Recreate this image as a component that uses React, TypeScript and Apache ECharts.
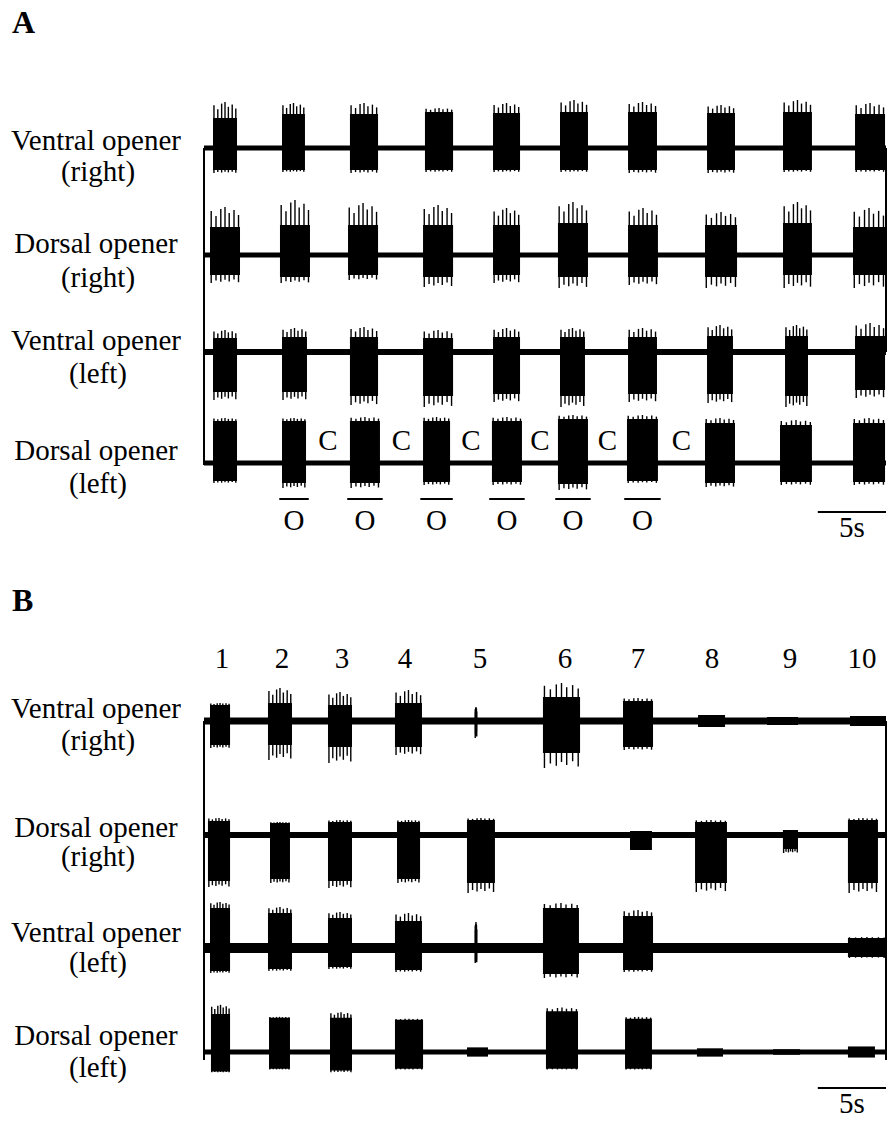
import React, { useEffect, useRef } from "react";
import * as echarts from "echarts";

// ---------- data (time in s, amplitude in arbitrary units) ----------
// burst: [start s, end s, body up, body down, peak up, peak down]
const A_VENTRAL_RIGHT = [
  [0.66, 2.42, 30, 22, 46, 25],
  [5.72, 7.4, 34, 22, 45, 24],
  [10.7, 12.76, 34, 22, 45, 25],
  [16.2, 18.26, 36, 22, 40, 24],
  [21.19, 23.17, 35, 22, 45, 24],
  [26.1, 28.15, 36, 22, 48, 24],
  [31.09, 33.21, 36, 22, 46, 25],
  [36.88, 38.93, 35, 22, 43, 25],
  [42.45, 44.57, 36, 22, 48, 24],
  [47.73, 49.93, 34, 22, 45, 24],
];
const A_DORSAL_RIGHT = [
  [0.44, 2.64, 28, 20, 48, 28],
  [5.57, 7.77, 30, 22, 55, 28],
  [10.56, 12.76, 30, 20, 52, 25],
  [16.06, 18.26, 30, 22, 50, 32],
  [21.19, 23.17, 30, 20, 47, 28],
  [25.95, 28.15, 32, 22, 53, 33],
  [31.09, 33.28, 30, 22, 47, 30],
  [36.73, 39.08, 30, 22, 43, 33],
  [42.45, 44.57, 32, 20, 53, 33],
  [47.58, 49.93, 28, 20, 47, 33],
];
const A_VENTRAL_LEFT = [
  [0.66, 2.42, 14, 40, 22, 48],
  [5.72, 7.55, 15, 40, 24, 48],
  [10.7, 12.76, 15, 44, 25, 53],
  [16.06, 18.26, 14, 44, 22, 55],
  [21.19, 23.17, 15, 42, 24, 50],
  [26.1, 27.93, 15, 44, 24, 55],
  [31.09, 33.21, 15, 42, 24, 50],
  [36.88, 38.78, 16, 42, 27, 51],
  [42.6, 44.28, 16, 44, 27, 55],
  [47.73, 49.93, 16, 38, 29, 46],
];
const A_DORSAL_LEFT = [
  [0.66, 2.42, 42, 18, 45, 20],
  [5.72, 7.48, 42, 20, 45, 25],
  [10.7, 12.9, 42, 20, 46, 25],
  [16.06, 18.04, 42, 19, 46, 22],
  [21.11, 23.31, 42, 19, 46, 22],
  [25.95, 28.15, 44, 21, 48, 27],
  [31.01, 33.28, 44, 18, 48, 20],
  [36.73, 38.93, 40, 20, 45, 24],
  [42.23, 44.57, 38, 19, 43, 22],
  [47.58, 49.93, 40, 19, 45, 22],
];
const B_VENTRAL_RIGHT = [
  [0.44, 1.91, 16, 24, 18, 27],
  [4.69, 6.45, 18, 24, 33, 39],
  [9.09, 10.85, 16, 26, 29, 42],
  [14.0, 15.98, 18, 26, 31, 34],
  [19.88, 20.0, 3, 3, 14, 17],
  [24.85, 27.57, 24, 32, 38, 47],
  [30.72, 32.92, 20, 26, 23, 29],
  [36.22, 38.2, 6, 6, 6, 6],
  [41.28, 43.55, 4, 4, 4, 4],
  [47.36, 50.0, 5, 5, 5, 5],
];
const B_DORSAL_RIGHT = [
  [0.29, 1.91, 14, 46, 17, 52],
  [4.84, 6.3, 12, 44, 13, 48],
  [9.09, 10.85, 13, 46, 15, 53],
  [14.15, 15.84, 13, 44, 15, 48],
  [19.28, 21.33, 15, 48, 17, 58],
  [31.23, 32.84, 4, 15, 4, 15],
  [36.0, 38.34, 13, 48, 15, 57],
  [42.45, 43.55, 5, 14, 5, 18],
  [47.21, 49.41, 15, 48, 17, 58],
];
const B_VENTRAL_LEFT = [
  [0.44, 1.91, 40, 23, 46, 25],
  [4.69, 6.45, 35, 21, 41, 23],
  [9.09, 10.85, 30, 19, 36, 21],
  [14.0, 15.98, 27, 22, 35, 24],
  [19.88, 20.0, 8, 8, 26, 15],
  [24.85, 27.49, 40, 26, 45, 30],
  [30.72, 32.92, 32, 22, 38, 24],
  [47.21, 50.0, 10, 9, 11, 10],
];
const B_DORSAL_LEFT = [
  [0.51, 1.91, 41, 21, 51, 22],
  [4.77, 6.3, 37, 18, 38, 19],
  [9.24, 10.85, 37, 20, 43, 22],
  [14.0, 16.06, 35, 18, 36, 19],
  [19.28, 20.82, 5, 5, 5, 5],
  [25.07, 27.42, 44, 18, 48, 19],
  [30.87, 32.84, 36, 18, 38, 19],
  [36.14, 38.05, 4, 5, 4, 5],
  [41.72, 43.7, 3, 3, 3, 3],
  [47.21, 49.19, 6, 6, 6, 6],
];

const TRACE_NAMES = [
  ["Ventral opener", "(right)"],
  ["Dorsal opener", "(right)"],
  ["Ventral opener", "(left)"],
  ["Dorsal opener", "(left)"],
];
const PANEL_LETTERS = ["A", "B"];
const OPEN_LABEL = "O";
const CLOSE_LABEL = "C";
const A_OPEN_BURSTS = [1, 2, 3, 4, 5, 6]; // indices into A_DORSAL_LEFT
const B_CYCLE_LABELS = ["1", "2", "3", "4", "5", "6", "7", "8", "9", "10"];
const B_CYCLE_TIMES = [1.32, 5.72, 10.12, 14.74, 20.23, 26.47, 31.82, 37.24, 42.96, 48.24];
const SCALE_BAR = [45, 50];
const SCALE_LABEL = "5s";
const T_MAX = 50;

// ---------- layout / style ----------
const W = 887;
const H = 1126;
const PLOT_LEFT = 204;
const PLOT_WIDTH = 682;
const HALF = 80;
const INK = "#000";
const FONT = '"Liberation Serif", "DejaVu Serif", serif';
const FS = 29;
// glyph texture of a burst: [position within burst, share of the way from body to peak]
const SPIKE_STYLE = [
  [0.04, 0.8],
  [0.2, 0.55],
  [0.36, 0.9],
  [0.5, 1],
  [0.64, 0.7],
  [0.8, 0.85],
  [0.95, 0.6],
];
const TRACES = [
  { base: 148, noise: 5, bursts: A_VENTRAL_RIGHT, label: [150, 181] },
  { base: 255, noise: 5, bursts: A_DORSAL_RIGHT, label: [253, 287] },
  { base: 352, noise: 6, bursts: A_VENTRAL_LEFT, label: [350, 383] },
  { base: 463, noise: 5, bursts: A_DORSAL_LEFT, label: [460, 493] },
  { base: 721, noise: 7, bursts: B_VENTRAL_RIGHT, label: [718, 750] },
  { base: 835, noise: 6, bursts: B_DORSAL_RIGHT, label: [837, 866] },
  { base: 948, noise: 10, bursts: B_VENTRAL_LEFT, label: [942, 972] },
  { base: 1058, noise: 5, bursts: B_DORSAL_LEFT, label: [1045, 1077] },
];

function burstRender(_p: any, api: any) {
  const t0 = api.value(0);
  const t1 = api.value(1);
  const bu = api.value(2);
  const bd = api.value(3);
  const pu = api.value(4);
  const pd = api.value(5);
  const a = api.coord([t0, bu]);
  const b = api.coord([t1, -bd]);
  const children: any[] = [
    {
      type: "rect",
      shape: { x: a[0], y: a[1], width: Math.max(b[0] - a[0], 1.5), height: b[1] - a[1] },
      style: { fill: INK },
    },
  ];
  if (pu > bu || pd > bd) {
    SPIKE_STYLE.forEach(([f, s], k) => {
      const t = t0 + (t1 - t0) * f;
      const up = bu + (pu - bu) * s;
      const dn = bd + (pd - bd) * SPIKE_STYLE[(k + 3) % SPIKE_STYLE.length][1];
      const p = api.coord([t, up]);
      const q = api.coord([t, -dn]);
      children.push({
        type: "line",
        shape: { x1: p[0], y1: p[1], x2: q[0], y2: q[1] },
        style: { stroke: INK, lineWidth: 1.4 },
      });
    });
  }
  return { type: "group", children };
}

function textEl(x: number, y: number, text: string, size = FS, weight = "normal", align = "center") {
  return {
    type: "text",
    x,
    y,
    style: {
      text,
      fill: INK,
      fontSize: size,
      fontFamily: FONT,
      fontWeight: weight,
      align,
      verticalAlign: "middle",
      textAlign: align,
      textVerticalAlign: "middle",
    },
  };
}

function buildOption() {
  const grid: any[] = [];
  const xAxis: any[] = [];
  const yAxis: any[] = [];
  const series: any[] = [];
  TRACES.forEach((tr, i) => {
    grid.push({ left: PLOT_LEFT, width: PLOT_WIDTH, top: tr.base - HALF, height: 2 * HALF });
    xAxis.push({ type: "value", gridIndex: i, min: 0, max: T_MAX, show: false });
    yAxis.push({ type: "value", gridIndex: i, min: -HALF, max: HALF, show: false });
    series.push({
      type: "line",
      xAxisIndex: i,
      yAxisIndex: i,
      data: [[0, 0], [T_MAX, 0]],
      symbol: "none",
      silent: true,
      lineStyle: { color: INK, width: tr.noise },
    });
    series.push({
      type: "custom",
      xAxisIndex: i,
      yAxisIndex: i,
      clip: false,
      silent: true,
      data: tr.bursts,
      renderItem: burstRender,
    });
  });

  // A: opening bars + O labels
  const openData = A_OPEN_BURSTS.map((k) => [A_DORSAL_LEFT[k][0] - 0.2, A_DORSAL_LEFT[k][1] + 0.2]);
  series.push({
    type: "custom",
    xAxisIndex: 3,
    yAxisIndex: 3,
    clip: false,
    silent: true,
    data: openData,
    renderItem: (_p: any, api: any) => {
      const t0 = api.value(0);
      const t1 = api.value(1);
      const a = api.coord([t0, -36]);
      const b = api.coord([t1, -36]);
      const c = api.coord([(t0 + t1) / 2, -57]);
      return {
        type: "group",
        children: [
          { type: "line", shape: { x1: a[0], y1: a[1], x2: b[0], y2: b[1] }, style: { stroke: INK, lineWidth: 2 } },
          textEl(c[0], c[1], OPEN_LABEL),
        ],
      };
    },
  });
  // A: closing labels in the gaps after opening bursts
  const closeData = A_OPEN_BURSTS.map((k) => [(A_DORSAL_LEFT[k][1] + A_DORSAL_LEFT[k + 1][0]) / 2]);
  series.push({
    type: "custom",
    xAxisIndex: 3,
    yAxisIndex: 3,
    clip: false,
    silent: true,
    data: closeData,
    renderItem: (_p: any, api: any) => {
      const c = api.coord([api.value(0), 23]);
      return textEl(c[0], c[1], CLOSE_LABEL);
    },
  });
  // B: cycle numbers
  series.push({
    type: "custom",
    xAxisIndex: 4,
    yAxisIndex: 4,
    clip: false,
    silent: true,
    data: B_CYCLE_TIMES.map((t, k) => [t, k]),
    renderItem: (_p: any, api: any) => {
      const c = api.coord([api.value(0), 63]);
      return textEl(c[0], c[1], B_CYCLE_LABELS[api.value(1)]);
    },
  });
  // scale bars
  [
    { axis: 3, bar: -49, txt: -64 },
    { axis: 7, bar: -39, txt: -55 },
  ].forEach((s) => {
    series.push({
      type: "custom",
      xAxisIndex: s.axis,
      yAxisIndex: s.axis,
      clip: false,
      silent: true,
      data: [SCALE_BAR],
      renderItem: (_p: any, api: any) => {
        const t0 = api.value(0);
        const t1 = api.value(1);
        const a = api.coord([t0, s.bar]);
        const b = api.coord([t1, s.bar]);
        const c = api.coord([(t0 + t1) / 2, s.txt]);
        return {
          type: "group",
          children: [
            { type: "line", shape: { x1: a[0], y1: a[1], x2: b[0], y2: b[1] }, style: { stroke: INK, lineWidth: 2 } },
            textEl(c[0], c[1], SCALE_LABEL),
          ],
        };
      },
    });
  });

  // graphic: frame lines, trace names, panel letters
  const elements: any[] = [];
  const vline = (x: number, y1: number, y2: number) => ({
    type: "line",
    silent: true,
    shape: { x1: x, y1, x2: x, y2 },
    style: { stroke: INK, lineWidth: 2 },
  });
  elements.push(vline(PLOT_LEFT, TRACES[0].base, TRACES[3].base + 2));
  elements.push(vline(PLOT_LEFT + PLOT_WIDTH, TRACES[0].base, TRACES[2].base));
  elements.push(vline(PLOT_LEFT, TRACES[4].base, TRACES[7].base + 2));
  elements.push(vline(PLOT_LEFT + PLOT_WIDTH, TRACES[4].base, TRACES[7].base + 2));
  TRACES.forEach((tr, i) => {
    const names = TRACE_NAMES[i % 4];
    elements.push(textEl(96, tr.label[0] - 10, names[0]));
    elements.push(textEl(98, tr.label[1] - 10, names[1]));
  });
  elements.push(textEl(12, 22, PANEL_LETTERS[0], 32, "bold", "left"));
  elements.push(textEl(12, 600, PANEL_LETTERS[1], 32, "bold", "left"));

  return {
    animation: false,
    backgroundColor: "#fff",
    grid,
    xAxis,
    yAxis,
    series,
    graphic: { elements },
  };
}

export default function App() {
  const ref = useRef<HTMLDivElement>(null);
  useEffect(() => {
    document.body.style.margin = "0";
    if (!ref.current) return;
    const chart = echarts.init(ref.current, null, { renderer: "svg" });
    chart.setOption(buildOption());
    return () => chart.dispose();
  }, []);
  return <div ref={ref} style={{ width: W, height: H }} />;
}
